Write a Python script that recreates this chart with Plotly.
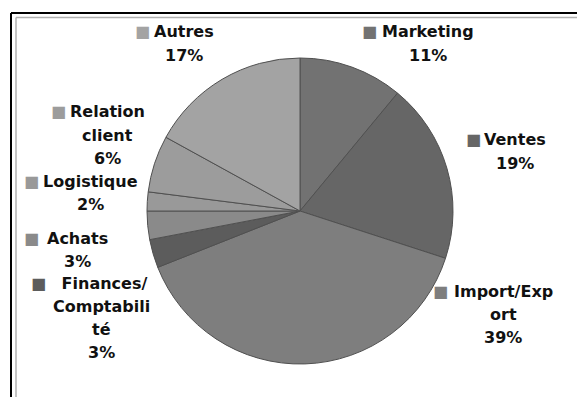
import plotly.graph_objects as go

# Share of each department (percent), clockwise from 12 o'clock
labels = ["Marketing", "Ventes", "Import/Export", "Finances/Comptabilité",
          "Achats", "Logistique", "Relation client", "Autres"]
values = [11, 19, 39, 3, 3, 2, 6, 17]
colors = ["#727272", "#666666", "#7e7e7e", "#5c5c5c",
          "#8a8a8a", "#999999", "#9c9c9c", "#a3a3a3"]

# How each label wraps inside its data-label box
label_lines = {
    "Marketing": ["Marketing"],
    "Ventes": ["Ventes"],
    "Import/Export": ["Import/Exp", "ort"],
    "Finances/Comptabilité": [" Finances/", "Comptabili", "té"],
    "Achats": ["Achats"],
    "Logistique": ["Logistique"],
    "Relation client": ["Relation", "client"],
    "Autres": ["Autres"],
}

W, H = 577, 397

# Label box layout in pixels: text centre x, first-line y, legend-key x
label_pos = {
    "Marketing": (428, 32, 369),
    "Ventes": (515, 140, 473),
    "Import/Export": (503, 291, 440),
    "Finances/Comptabilité": (101, 283, 38),
    "Achats": (77, 238, 31),
    "Logistique": (90, 182, 31),
    "Relation client": (107, 112, 58),
    "Autres": (184, 32, 142),
}
LINE = 23


def px(x):
    return x / W


def py(y):
    return 1 - y / H


fig = go.Figure(go.Pie(
    labels=labels,
    values=values,
    sort=False,
    direction="clockwise",
    rotation=0,
    textinfo="none",
    hoverinfo="label+percent",
    marker=dict(colors=colors, line=dict(color="#505050", width=1)),
    domain=dict(x=[px(147), px(453)], y=[py(364), py(58)]),
    showlegend=False,
))

font = dict(family="DejaVu Sans", size=16, color="#111111")
annotations = []
for lab, val, col in zip(labels, values, colors):
    cx, y0, kx = label_pos[lab]
    lines = label_lines[lab] + [f"{val}%"]
    for k, line in enumerate(lines):
        annotations.append(dict(
            x=px(cx), y=py(y0 + LINE * k), xref="paper", yref="paper",
            text=f"<b>{line}</b>", showarrow=False, font=font,
            xanchor="center", yanchor="middle",
        ))
    # legend key square in front of the first line
    annotations.append(dict(
        x=px(kx), y=py(y0), xref="paper", yref="paper",
        text="■", showarrow=False,
        font=dict(family="DejaVu Sans", size=16, color=col),
        xanchor="center", yanchor="middle",
    ))

# Double frame around the chart area (outer black, inner grey)
shapes = [
    dict(type="line", xref="paper", yref="paper", x0=px(11), y0=py(13), x1=1, y1=py(13),
         line=dict(color="#000000", width=2)),
    dict(type="line", xref="paper", yref="paper", x0=px(11), y0=py(13), x1=px(11), y1=0,
         line=dict(color="#000000", width=2)),
    dict(type="line", xref="paper", yref="paper", x0=px(16), y0=py(17.5), x1=1, y1=py(17.5),
         line=dict(color="#b0b0b0", width=1.5)),
    dict(type="line", xref="paper", yref="paper", x0=px(16), y0=py(17.5), x1=px(16), y1=0,
         line=dict(color="#b0b0b0", width=1.5)),
]

fig.update_layout(
    width=W, height=H,
    margin=dict(l=0, r=0, t=0, b=0),
    paper_bgcolor="#ffffff",
    plot_bgcolor="#ffffff",
    annotations=annotations,
    shapes=shapes,
)

fig.write_html("out.html")
